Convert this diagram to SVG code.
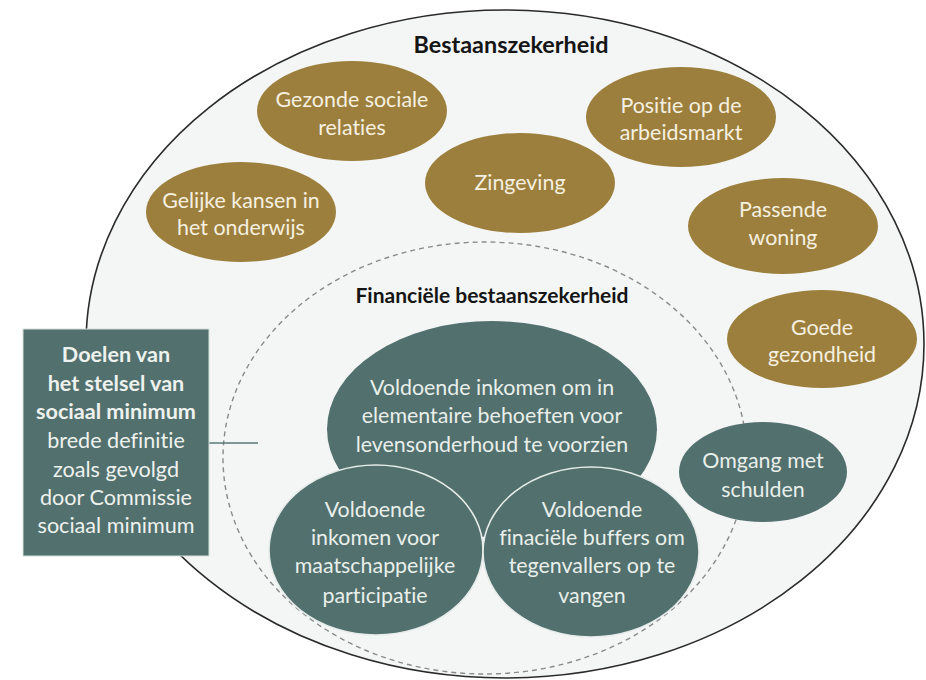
<svg xmlns="http://www.w3.org/2000/svg" width="926" height="680" viewBox="0 0 926 680">
<style>
text{font-variant-ligatures:none}
.gold{fill:#9c7f3c}
.teal{fill:#52706d}
.gt{font-family:Lato,"Open Sans",sans-serif;font-size:21.4px;fill:#f6f0e0;text-anchor:middle}
.tt{font-family:Lato,"Open Sans",sans-serif;font-size:21.4px;fill:#e9efeb;text-anchor:middle}
.title{font-family:Lato,"Open Sans",sans-serif;font-weight:bold;fill:#151515;text-anchor:middle}
.bt{font-family:Lato,"Open Sans",sans-serif;font-size:21.6px;fill:#eef2ef;text-anchor:middle}
</style>
<rect width="926" height="680" fill="#ffffff"/>
<g id="bestaanszekerheid">
<ellipse cx="505" cy="344" rx="419" ry="334" fill="#f4f6f6" stroke="#2a2a2a" stroke-width="1.6"/>
<text class="title" x="511" y="53" font-size="23.4">Bestaanszekerheid</text>
</g>
<g id="financiele">
<ellipse cx="485" cy="458" rx="262" ry="216" fill="none" stroke="#8a8a8a" stroke-width="1.4" stroke-dasharray="5 4"/>
<text class="title" x="492" y="303" font-size="21">Financiële bestaanszekerheid</text>
</g>
<g id="connectors">
<line x1="209" y1="443" x2="258" y2="443" stroke="#5a7a76" stroke-width="1.5"/>
</g>
<g id="gezonde">
<ellipse class="gold" cx="352" cy="111" rx="95" ry="50"/>
<text class="gt" x="352" y="107">Gezonde sociale</text>
<text class="gt" x="352" y="135">relaties</text>
</g>
<g id="positie">
<ellipse class="gold" cx="681" cy="117" rx="95" ry="50"/>
<text class="gt" x="681" y="113">Positie op de</text>
<text class="gt" x="681" y="140">arbeidsmarkt</text>
</g>
<g id="zingeving">
<ellipse class="gold" cx="520" cy="183" rx="95" ry="50"/>
<text class="gt" x="520" y="190">Zingeving</text>
</g>
<g id="gelijke">
<ellipse class="gold" cx="241" cy="212" rx="95" ry="50"/>
<text class="gt" x="241" y="208">Gelijke kansen in</text>
<text class="gt" x="241" y="235">het onderwijs</text>
</g>
<g id="passende">
<ellipse class="gold" cx="783" cy="226" rx="95" ry="48"/>
<text class="gt" x="783" y="217">Passende</text>
<text class="gt" x="783" y="245">woning</text>
</g>
<g id="goede">
<ellipse class="gold" cx="822" cy="339" rx="95" ry="49"/>
<text class="gt" x="822" y="335">Goede</text>
<text class="gt" x="822" y="362">gezondheid</text>
</g>
<g id="omgang">
<ellipse class="teal" cx="763" cy="472" rx="84" ry="50"/>
<text class="tt" x="763" y="468">Omgang met</text>
<text class="tt" x="763" y="497">schulden</text>
</g>
<g id="elementair">
<ellipse class="teal" cx="492" cy="429" rx="165" ry="108"/>
<text class="tt" x="492" y="395">Voldoende inkomen om in</text>
<text class="tt" x="492" y="423">elementaire behoeften voor</text>
<text class="tt" x="492" y="452">levensonderhoud te voorzien</text>
</g>
<g id="participatie">
<ellipse class="teal" cx="376" cy="550" rx="107" ry="85" stroke="#e6ecea" stroke-width="1.6"/>
<text class="tt" x="375" y="517">Voldoende</text>
<text class="tt" x="375" y="545">inkomen voor</text>
<text class="tt" x="375" y="573">maatschappelijke</text>
<text class="tt" x="375" y="603">participatie</text>
</g>
<g id="buffers">
<ellipse class="teal" cx="591" cy="552" rx="108" ry="85" stroke="#e6ecea" stroke-width="1.6"/>
<text class="tt" x="592" y="517">Voldoende</text>
<text class="tt" x="592" y="545">finaciële buffers om</text>
<text class="tt" x="592" y="573">tegenvallers op te</text>
<text class="tt" x="592" y="603">vangen</text>
</g>
<g id="doelen">
<rect x="23" y="329" width="186" height="227" fill="#52706d" stroke="#d5dedc" stroke-width="1"/>
<text class="bt" x="116" y="362" font-weight="bold">Doelen van</text>
<text class="bt" x="116" y="391" font-weight="bold">het stelsel van</text>
<text class="bt" x="116" y="419" font-weight="bold">sociaal minimum</text>
<text class="bt" x="116" y="448">brede definitie</text>
<text class="bt" x="116" y="477">zoals gevolgd</text>
<text class="bt" x="116" y="505">door Commissie</text>
<text class="bt" x="116" y="533">sociaal minimum</text>
</g>
</svg>
